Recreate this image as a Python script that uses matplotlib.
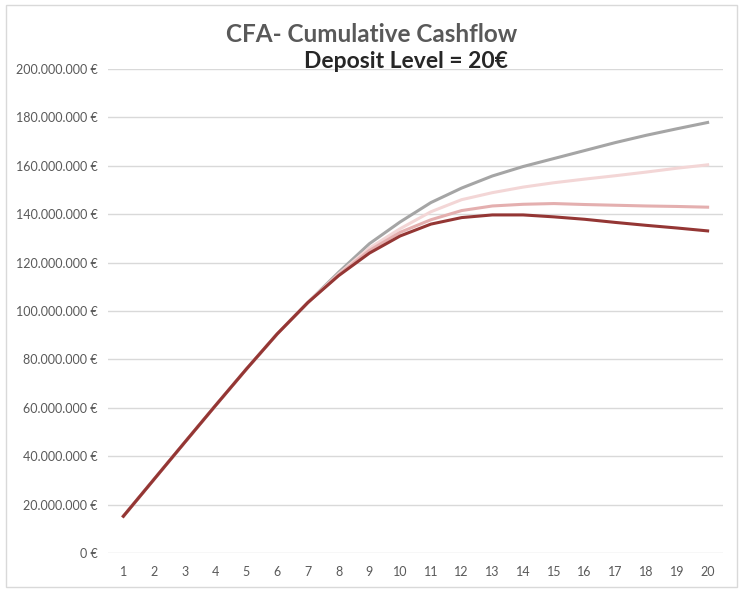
import matplotlib
matplotlib.use("Agg")
import matplotlib.pyplot as plt
from matplotlib.patches import Rectangle
from matplotlib.ticker import FuncFormatter

plt.rcParams['font.family'] = ['Lato', 'DejaVu Sans']

years = list(range(1, 21))

# cumulative cashflow, millions of euro
series_gray = [15.2, 30.5, 45.8, 61.0, 76.0, 90.5, 103.5, 116.0, 127.8, 136.8,
               144.8, 150.8, 155.8, 159.7, 163.0, 166.3, 169.6, 172.6, 175.3, 177.9]
series_light = [15.2, 30.5, 45.8, 61.0, 76.0, 90.5, 103.5, 115.3, 126.0, 134.0,
                141.0, 146.0, 148.9, 151.2, 153.0, 154.5, 155.9, 157.4, 159.0, 160.4]
series_mid = [15.2, 30.5, 45.8, 61.0, 76.0, 90.5, 103.5, 115.0, 125.0, 132.5,
              137.7, 141.5, 143.4, 144.1, 144.4, 144.0, 143.7, 143.4, 143.2, 142.9]
series_dark = [15.2, 30.5, 45.8, 61.0, 76.0, 90.5, 103.5, 114.6, 123.9, 131.0,
               135.9, 138.6, 139.7, 139.7, 138.9, 137.9, 136.6, 135.4, 134.3, 133.1]

yticks = list(range(0, 201, 20))

fig = plt.figure(figsize=(7.42, 5.90), dpi=100)
ax = fig.add_axes([108 / 742, 37 / 590, 615 / 742, 484 / 590])

lw = 2.2
ax.plot(years, [v * 1e6 for v in series_gray], color="#A5A5A5", lw=lw)
ax.plot(years, [v * 1e6 for v in series_light], color="#F3D6D6", lw=lw)
ax.plot(years, [v * 1e6 for v in series_mid], color="#E4AFAF", lw=lw)
ax.plot(years, [v * 1e6 for v in series_dark], color="#943634", lw=lw)

ax.set_xlim(0.5, 20.5)
ax.set_ylim(0, 200e6)
ax.set_xticks(years)
ax.set_yticks([t * 1e6 for t in yticks])


def euro(v, pos):
    if v == 0:
        return "0 €"
    return f"{int(round(v)):,}".replace(",", ".") + " €"


ax.yaxis.set_major_formatter(FuncFormatter(euro))
ax.grid(axis="y", color="#D9D9D9", lw=1.0)
ax.set_axisbelow(True)
for s in ax.spines.values():
    s.set_visible(False)
ax.tick_params(length=0, labelsize=9, colors="#595959")
ax.tick_params(axis="y", pad=7.5)
ax.tick_params(axis="x", pad=9)

fig.text(372 / 742, 1 - 35 / 590, "CFA- Cumulative Cashflow", ha="center", va="center",
         fontsize=17.5, fontweight="bold", color="#595959")
fig.text(406 / 742, 1 - 62 / 590, "Deposit Level = 20€", ha="center", va="center",
         fontsize=16.5, fontweight="bold", color="#262626")

fig.patches.append(Rectangle((6 / 742, 3 / 590), 731 / 742, 582 / 590, transform=fig.transFigure,
                             fill=False, edgecolor="#D9D9D9", lw=1.0))

fig.savefig("out.png", dpi=100)
